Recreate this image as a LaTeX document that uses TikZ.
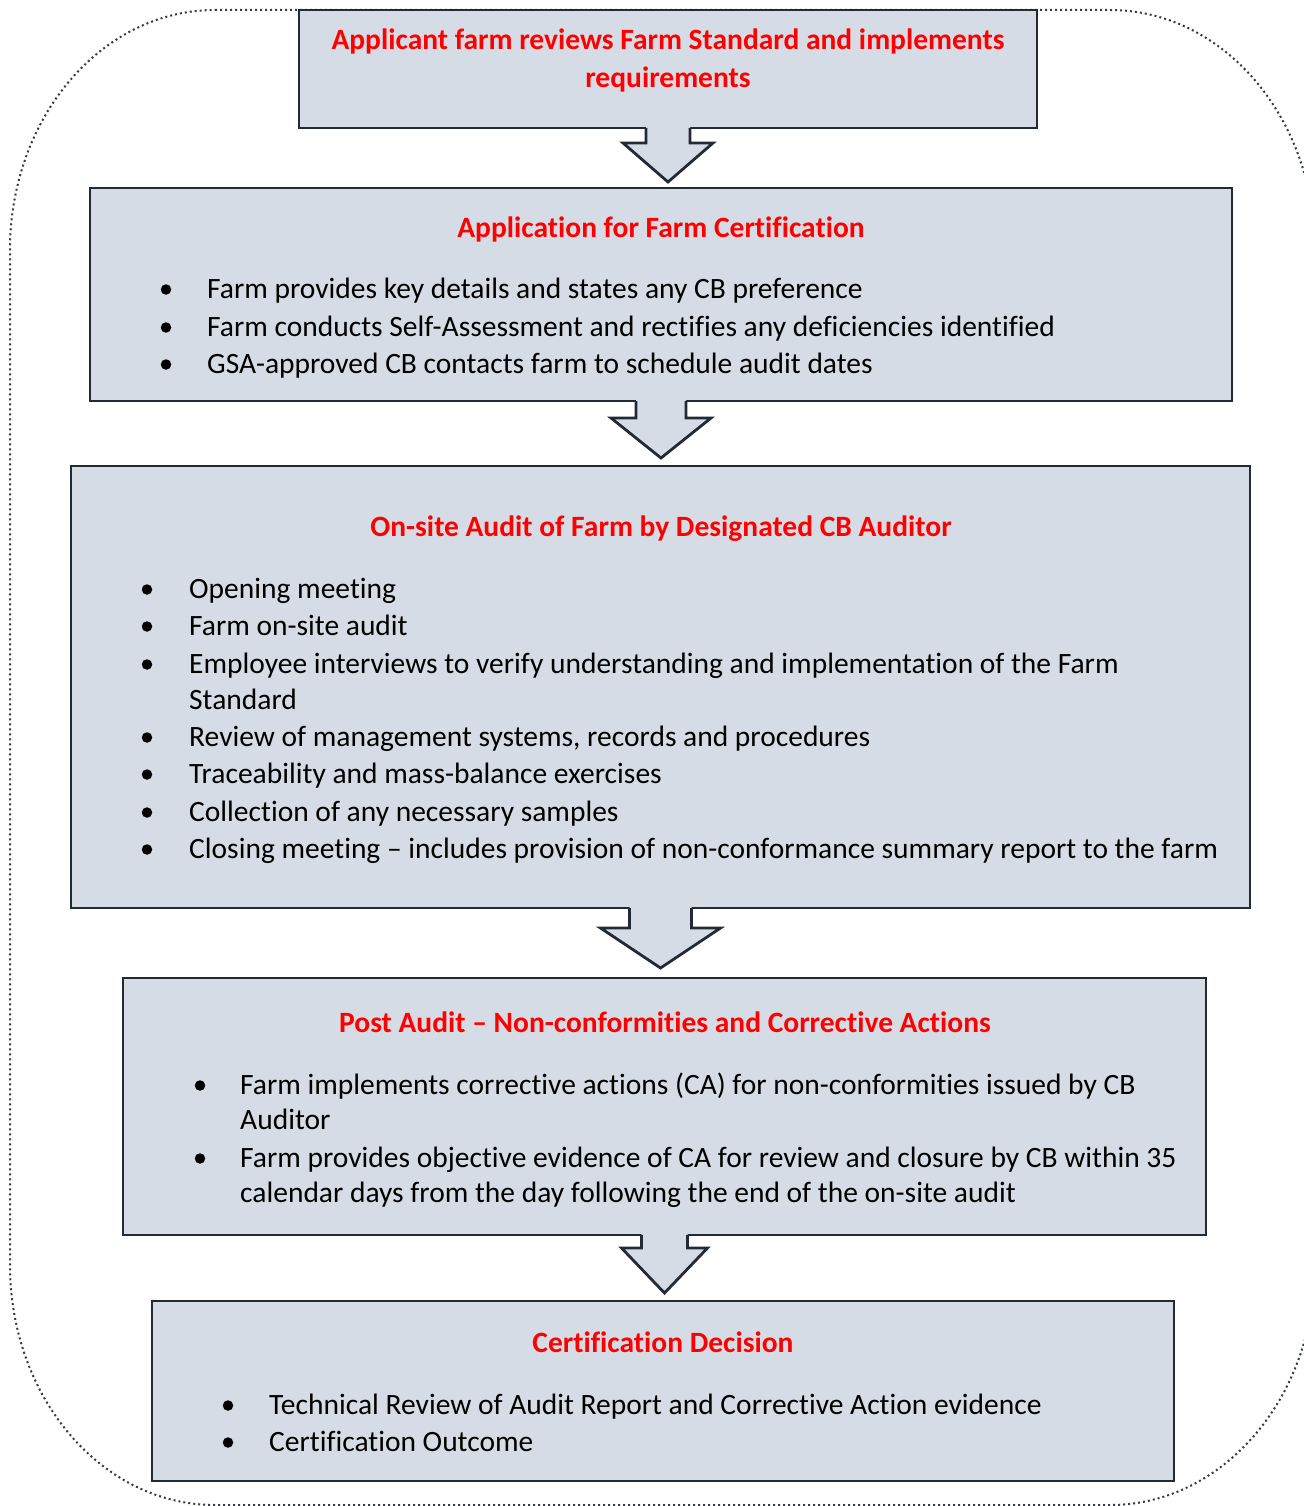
\documentclass[tikz,border=0pt]{standalone}
\usepackage{fontspec}
\setmainfont[Ligatures=NoCommon]{Carlito}
\usetikzlibrary{calc}
\definecolor{boxfill}{HTML}{D6DCE5}
\definecolor{boxline}{HTML}{222A35}
\definecolor{titlered}{HTML}{FF0000}
\definecolor{dotline}{HTML}{333B48}
\tikzset{
  box/.style={draw=boxline, fill=boxfill, line width=2.8, rectangle, inner sep=0, outer sep=0},
  ttl/.style={anchor=base, inner sep=0, text=titlered, font=\fontsize{29.5}{35}\selectfont\bfseries},
  itm/.style={anchor=base west, inner sep=0, font=\fontsize{29.5}{35}\selectfont},
  bul/.style={circle, fill=black, inner sep=0, minimum size=10.5},
  blk/.style={fill=boxfill},
  blkline/.style={draw=boxline, line width=2.8, line join=miter},
}
\newcommand\blockarrow[5]{%
  \fill[blk] ($(#1.south)+(-#2,-3)$) -- ($(#1.south)+(-#2,#4)$) -- ($(#1.south)+(-#3,#4)$) -- ($(#1.south)+(0,#5)$) -- ($(#1.south)+(#3,#4)$) -- ($(#1.south)+(#2,#4)$) -- ($(#1.south)+(#2,-3)$) -- cycle;
  \draw[blkline] ($(#1.south)+(-#2,0)$) -- ($(#1.south)+(-#2,#4)$) -- ($(#1.south)+(-#3,#4)$) -- ($(#1.south)+(0,#5)$) -- ($(#1.south)+(#3,#4)$) -- ($(#1.south)+(#2,#4)$) -- ($(#1.south)+(#2,0)$);
}
\begin{document}
\begin{tikzpicture}[x=1pt,y=-1pt]
\useasboundingbox (0,0) rectangle (1303,1506);
% dotted outer border with elliptical corners
\draw[dotline, line width=2, dash pattern=on 2 off 3]
  (215,10) -- (1110,10) arc[start angle=90, end angle=0, x radius=205, y radius=-240]
  -- (1315,1265) arc[start angle=0, end angle=-90, x radius=205, y radius=-240]
  -- (215,1505) arc[start angle=270, end angle=180, x radius=205, y radius=-240]
  -- (10,250) arc[start angle=180, end angle=90, x radius=205, y radius=-240];

% boxes
\node[box, minimum width=738, minimum height=118] (b1) at (668,69) {};
\node[box, minimum width=1142, minimum height=213] (b2) at (661,294.5) {};
\node[box, minimum width=1179, minimum height=442] (b3) at (660.5,687) {};
\node[box, minimum width=1083, minimum height=257] (b4) at (664.5,1106.5) {};
\node[box, minimum width=1022, minimum height=180] (b5) at (663,1391) {};

% arrows
\blockarrow{b1}{22}{45}{15}{54}
\blockarrow{b2}{25}{50}{17}{57}
\blockarrow{b3}{31}{60}{20}{60}
\blockarrow{b4}{23}{43}{13}{58}

% box 1
\node[ttl] (t1a) at (668,49.5) {Applicant farm reviews Farm Standard and implements};
\node[ttl] (t1b) at (668,87.5) {requirements};

% box 2
\node[ttl] (t2) at (661,237.5) {Application for Farm Certification};
\node[bul] (u21) at (166,289.5) {};
\node[itm] (i21) at (207,298.5) {Farm provides key details and states any CB preference};
\node[bul] (u22) at (166,327.5) {};
\node[itm] (i22) at (207,336.5) {Farm conducts Self-Assessment and rectifies any deficiencies identified};
\node[bul] (u23) at (166,364.5) {};
\node[itm] (i23) at (207,373.5) {GSA-approved CB contacts farm to schedule audit dates};

% box 3
\node[ttl] (t3) at (661,536.5) {On-site Audit of Farm by Designated CB Auditor};
\node[bul] (u31) at (147,589.5) {};
\node[itm] (i31) at (189,598.5) {Opening meeting};
\node[bul] (u32) at (147,626.5) {};
\node[itm] (i32) at (189,635.5) {Farm on-site audit};
\node[bul] (u33) at (147,664.5) {};
\node[itm] (i33) at (189,673.5) {Employee interviews to verify understanding and implementation of the Farm};
\node[itm] (i33b) at (189,709.5) {Standard};
\node[bul] (u34) at (147,737.5) {};
\node[itm] (i34) at (189,746.5) {Review of management systems, records and procedures};
\node[bul] (u35) at (147,774.5) {};
\node[itm] (i35) at (189,783.5) {Traceability and mass-balance exercises};
\node[bul] (u36) at (147,812.5) {};
\node[itm] (i36) at (189,821.5) {Collection of any necessary samples};
\node[bul] (u37) at (147,849.5) {};
\node[itm] (i37) at (189,858.5) {Closing meeting – includes provision of non-conformance summary report to the farm};

% box 4
\node[ttl] (t4) at (665,1032.5) {Post Audit – Non-conformities and Corrective Actions};
\node[bul] (u41) at (200,1085.5) {};
\node[itm] (i41) at (240,1094.5) {Farm implements corrective actions (CA) for non-conformities issued by CB};
\node[itm] (i41b) at (240,1129.5) {Auditor};
\node[bul] (u42) at (200,1158.5) {};
\node[itm] (i42) at (240,1167.5) {Farm provides objective evidence of CA for review and closure by CB within 35};
\node[itm] (i42b) at (240,1202.5) {calendar days from the day following the end of the on-site audit};

% box 5
\node[ttl] (t5) at (663,1352.5) {Certification Decision};
\node[bul] (u51) at (228,1405.5) {};
\node[itm] (i51) at (269,1414.5) {Technical Review of Audit Report and Corrective Action evidence};
\node[bul] (u52) at (228,1442.5) {};
\node[itm] (i52) at (269,1451.5) {Certification Outcome};
\end{tikzpicture}
\end{document}
